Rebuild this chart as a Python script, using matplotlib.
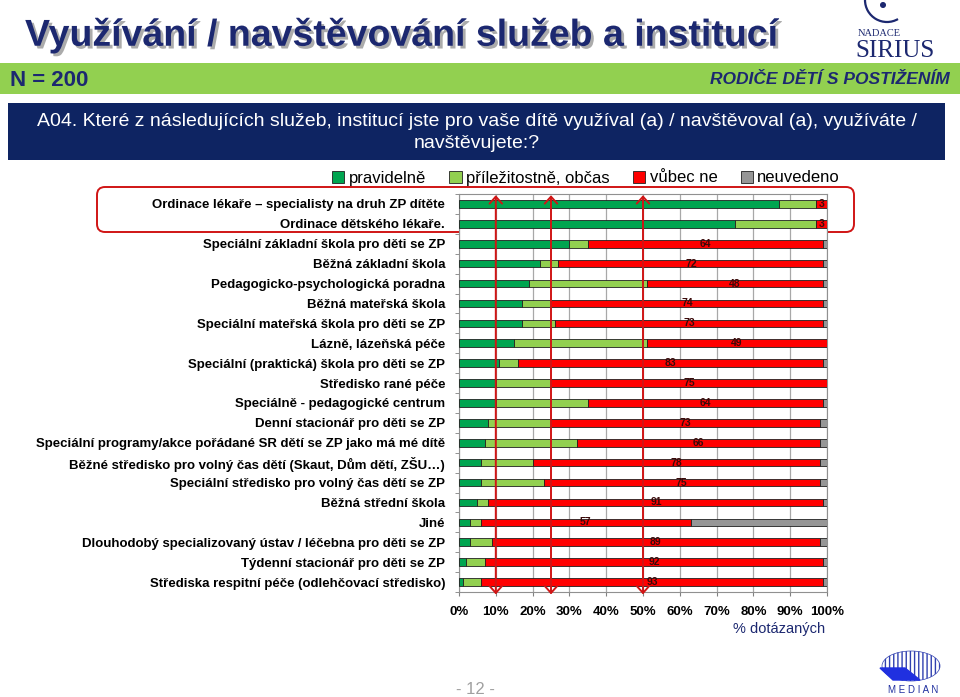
import numpy as np
import matplotlib
matplotlib.use('Agg')
import matplotlib.pyplot as plt
import matplotlib.patheffects as pe
from matplotlib.patches import FancyBboxPatch, Rectangle, Ellipse, Polygon, Arc, Circle

plt.rcParams['font.family'] = ['Liberation Sans', 'DejaVu Sans']

# data (% of respondents)
categories = [
    'Ordinace lékaře – specialisty na druh ZP dítěte',
    'Ordinace dětského lékaře.',
    'Speciální základní škola pro děti se ZP',
    'Běžná základní škola',
    'Pedagogicko-psychologická poradna',
    'Běžná mateřská škola',
    'Speciální mateřská škola pro děti se ZP',
    'Lázně, lázeňská péče',
    'Speciální (praktická) škola pro děti se ZP',
    'Středisko rané péče',
    'Speciálně - pedagogické centrum',
    'Denní stacionář pro děti se ZP',
    'Speciální programy/akce pořádané SR dětí se ZP jako má mé dítě',
    'Běžné středisko pro volný čas dětí (Skaut, Dům dětí, ZŠU…)',
    'Speciální středisko pro volný čas dětí se ZP',
    'Běžná střední škola',
    'Jiné',
    'Dlouhodobý specializovaný ústav / léčebna pro děti se ZP',
    'Týdenní stacionář pro děti se ZP',
    'Střediska respitní péče (odlehčovací středisko)',
]
pravidelne = [87, 75, 30, 22, 19, 17, 17, 15, 11, 10, 10, 8, 7, 6, 6, 5, 3, 3, 2, 1]
prilezitostne = [10, 22, 5, 5, 32, 8, 9, 36, 5, 15, 25, 17, 25, 14, 17, 3, 3, 6, 5, 5]
vubec_ne = [3, 3, 64, 72, 48, 74, 73, 49, 83, 75, 64, 73, 66, 78, 75, 91, 57, 89, 92, 93]
neuvedeno = [0, 0, 1, 1, 1, 1, 1, 0, 1, 0, 1, 2, 2, 2, 2, 1, 37, 2, 1, 1]

series = ['pravidelně', 'příležitostně, občas', 'vůbec ne', 'neuvedeno']
colors = ['#00A550', '#92D050', '#FF0000', '#969696']
xticks = [0, 10, 20, 30, 40, 50, 60, 70, 80, 90, 100]
arrow_marks = [10, 25, 50]

navy = '#1C2870'
red_ann = '#D01515'

fig = plt.figure(figsize=(9.6, 6.97), dpi=100)

# overlay in pixel coordinates for page decoration
bg = fig.add_axes([0, 0, 1, 1])
bg.set_xlim(0, 960)
bg.set_ylim(697, 0)
bg.axis('off')

bg.text(25, 35, 'Využívání / navštěvování služeb a institucí', fontsize=27, fontweight='bold',
        color=navy, va='center', ha='left',
        path_effects=[pe.withSimplePatchShadow(offset=(2, -2), shadow_rgbFace='#888888', alpha=0.7)])
bg.add_patch(Rectangle((0, 63), 960, 31, facecolor='#92D050', edgecolor='none'))
bg.text(10, 80, 'N = 200', fontsize=16, fontweight='bold', color=navy, va='center')
bg.text(950, 80, 'RODIČE DĚTÍ S POSTIŽENÍM', fontsize=12.5, fontweight='bold', fontstyle='italic',
        color=navy, va='center', ha='right')
bg.add_patch(Rectangle((8, 103), 937, 57, facecolor='#0E2462', edgecolor='none'))
bg.text(477, 122, 'A04. Které z následujících služeb, institucí jste pro vaše dítě využíval (a) / '
        'navštěvoval (a), využíváte /', fontsize=14, color='white', ha='center', va='center')
bg.text(477, 143, 'navštěvujete:?', fontsize=14, color='white', ha='center', va='center')

# Sirius logo
bg.add_patch(Arc((887, 0), 44, 44, theta1=60, theta2=180, color=navy, lw=1.6))
bg.add_patch(Circle((883, 5), 2.3, color=navy))
bg.text(879, 34, 'NADACE', fontsize=7.5, family='Liberation Serif', color=navy, ha='center', va='center')
bg.text(895, 51, 'SIRIUS', fontsize=18, family='Liberation Serif', color=navy, ha='center', va='center')

# Median logo
bg.add_patch(Ellipse((911, 666), 58, 30, facecolor='white', edgecolor='#3040B0', hatch='||||', lw=0.5))
bg.add_patch(Polygon([[880, 668], [905, 668], [920, 680], [893, 680]], closed=True, color='#2030E0'))
bg.text(913, 690, 'M E D I A N', fontsize=7, color='#2030A0', ha='center', va='center')

bg.text(475, 689, '- 12 -', fontsize=12, color='#A0A0A0', ha='center', va='center')
bg.text(779, 629, '% dotázaných', fontsize=10.5, color=navy, ha='center', va='center')

# red rounded frame around first two rows
bg.add_patch(FancyBboxPatch((97, 187), 757, 45, boxstyle='round,pad=0,rounding_size=8',
                            facecolor='none', edgecolor=red_ann, lw=1.4, zorder=5))

# main chart
ax = fig.add_axes([459 / 960, 1 - 592 / 697, 368 / 960, 398 / 697])
y = np.arange(len(categories))
left = np.zeros(len(categories))
handles = []
for name, vals, col in zip(series, [pravidelne, prilezitostne, vubec_ne, neuvedeno], colors):
    vals = np.array(vals, dtype=float)
    h = ax.barh(y, vals, left=left, height=0.38, color=col, edgecolor='#202020', linewidth=0.6,
                label=name, zorder=3)
    handles.append(h)
    if name == 'vůbec ne':
        for yi, l, v in zip(y, left, vals):
            ax.text(l + v / 2 if v > 10 else l + v - 1.5, yi, f'{int(v)}', ha='center', va='center',
                    fontsize=7.5, fontweight='bold', color='#3A0A0A', zorder=4)
    left += vals

ax.set_xlim(0, 100)
ax.set_ylim(len(categories) - 0.5, -0.5)
ax.set_xticks(xticks)
ax.set_xticklabels([f'{t}%' for t in xticks], fontsize=9.5, fontweight='bold')
ax.set_yticks(y)
ax.set_yticklabels(categories, fontsize=9.5, fontweight='bold')
ax.set_yticks(np.arange(len(categories) + 1) - 0.5, minor=True)
ax.tick_params(axis='y', which='major', length=0, pad=10)
ax.tick_params(axis='y', which='minor', length=3, color='#808080')
ax.tick_params(axis='x', length=3, color='#808080', pad=7)
ax.grid(axis='x', color='#A8A8A8', linewidth=0.9, zorder=0)
for s in ax.spines.values():
    s.set_color('#909090')

# red arrows marking 10 %, 25 %, 50 %
for m in arrow_marks:
    ax.annotate('', xy=(m, -0.013), xytext=(m, 1.004), xycoords=('data', 'axes fraction'),
                textcoords=('data', 'axes fraction'),
                arrowprops=dict(arrowstyle='<->,head_length=0.5,head_width=0.45', color=red_ann, lw=1.4),
                annotation_clip=False, zorder=6)

fig.legend(handles=handles, loc='center', bbox_to_anchor=(586 / 960, 1 - 178 / 697), ncol=4,
           frameon=False, fontsize=12, handlelength=0.75, handleheight=0.75, handletextpad=0.25,
           columnspacing=1.4)

fig.savefig('out.png', dpi=100)
